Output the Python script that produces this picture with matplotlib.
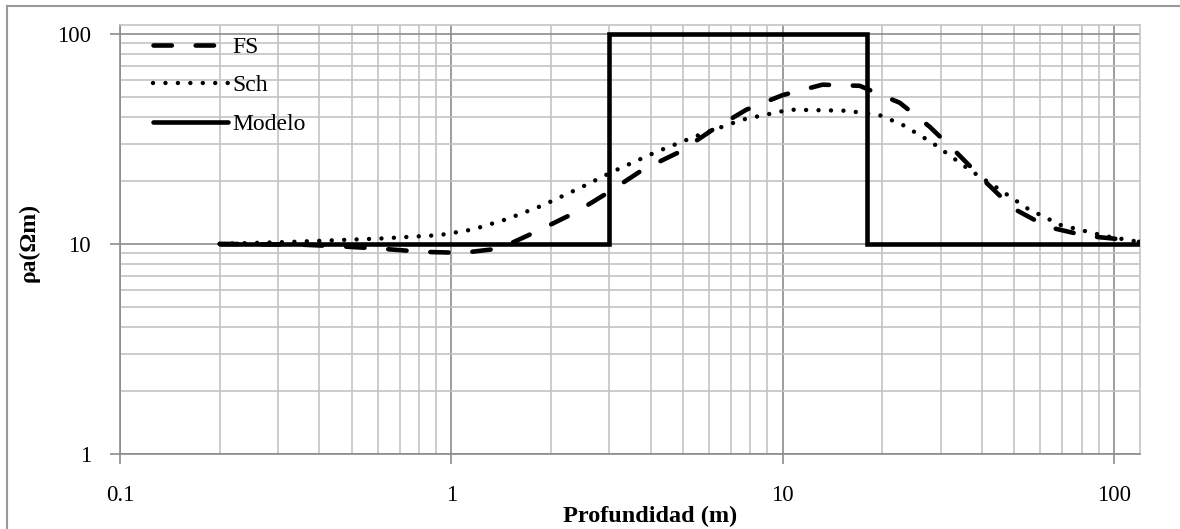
import numpy as np
import matplotlib
matplotlib.use("Agg")
import matplotlib.pyplot as plt
from matplotlib.lines import Line2D
from matplotlib.ticker import LogLocator, FixedLocator, NullFormatter

# ----- data -----
fs_depth = [0.2, 0.36, 0.48, 0.62, 0.82, 1.08, 1.4, 1.84, 2.39, 3.0, 3.78, 4.89,
            6.15, 7.78, 10.0, 13.2, 17.1, 22.6, 27.8, 33.6, 41.3, 49.5, 63.0,
            83.0, 109.0, 120.0]
fs_rho = [10.0, 9.9, 9.7, 9.47, 9.16, 9.06, 9.5, 11.6, 14.2, 17.7, 22.5, 27.4,
          34.9, 43.5, 51.0, 57.2, 56.5, 46.9, 36.1, 27.1, 19.5, 14.8, 12.05,
          10.9, 10.45, 10.2]

sch_depth = [0.2, 0.32, 0.61, 0.92, 1.16, 1.47, 1.88, 2.49, 3.06, 4.16, 5.61,
             7.57, 10.5, 15.6, 19.6, 23.0, 28.3, 36.7, 45.3, 55.0, 69.0, 94.0, 120.0]
sch_rho = [10.0, 10.2, 10.6, 11.0, 11.7, 13.1, 15.2, 18.7, 22.0, 27.4, 33.0,
           39.0, 43.5, 43.0, 41.0, 36.9, 30.3, 22.5, 18.1, 14.7, 12.3, 10.9, 10.2]

model_edges = [0.2, 3.0, 18.0, 120.0]   # layer boundaries (m)
model_rho = [10.0, 100.0, 10.0]         # layer resistivity (Ohm m)

x_ticks = [0.1, 1, 10, 100]
x_labels = ["0.1", "1", "10", "100"]
y_ticks = [1, 10, 100]
y_labels = ["1", "10", "100"]

plt.rcParams["font.family"] = ["Liberation Serif", "DejaVu Serif"]
FS = 16.5
GRID_MAJOR = "#8c8c8c"
GRID_MINOR = "#c4c4c4"

W, H = 1180, 529
fig = plt.figure(figsize=(W / 100, H / 100), dpi=100)
ax = fig.add_axes([120 / W, 1 - 454 / H, (1140 - 120) / W, (454 - 25) / H])

ax.set_xscale("log")
ax.set_yscale("log")
ax.set_xlim(0.1, 120)
ax.set_ylim(1, 110)

# model as stairs, expanded into a polyline
mx = np.repeat(model_edges, 2)[1:-1]
my = np.repeat(model_rho, 2)

ax.plot(fs_depth, fs_rho, color="black", lw=3.3, dashes=(4.0, 5.2),
        dash_capstyle="round", label="FS", zorder=4)
ax.plot(sch_depth, sch_rho, color="black", lw=3.2, dashes=(0.001, 2.8),
        dash_capstyle="round", label="Sch", zorder=4)
ax.plot(mx, my, color="black", lw=3.3, solid_capstyle="round",
        solid_joinstyle="miter", label="Modelo", zorder=5)

# grid
sub = np.arange(2, 10)
ax.xaxis.set_minor_locator(LogLocator(base=10, subs=sub, numticks=20))
ax.yaxis.set_minor_locator(LogLocator(base=10, subs=sub, numticks=20))
ax.xaxis.set_minor_formatter(NullFormatter())
ax.yaxis.set_minor_formatter(NullFormatter())
ax.xaxis.set_major_locator(FixedLocator(x_ticks))
ax.yaxis.set_major_locator(FixedLocator(y_ticks))
ax.set_xticklabels(x_labels)
ax.set_yticklabels(y_labels)
ax.grid(which="minor", color=GRID_MINOR, lw=1.2)
ax.grid(which="major", color=GRID_MAJOR, lw=1.2)
ax.set_axisbelow(True)

ax.tick_params(which="major", direction="out", length=7, width=1.2,
               color=GRID_MAJOR, labelsize=FS, pad=15)
ax.tick_params(axis="y", which="major", pad=14)
ax.tick_params(which="minor", length=0)

for side in ("top", "right"):
    ax.spines[side].set_color(GRID_MINOR)
    ax.spines[side].set_linewidth(1.2)
for side in ("left", "bottom"):
    ax.spines[side].set_color(GRID_MAJOR)
    ax.spines[side].set_linewidth(1.2)

ax.set_xlabel("Profundidad (m)", fontsize=17.5, fontweight="bold")
ax.xaxis.set_label_coords((650 - 120) / 1020, -(506 - 454) / 429)
ax.set_ylabel("ρa(Ωm)", fontsize=17, fontweight="bold")
ax.yaxis.set_label_coords(-(120 - 40) / 1020, (454 - 243) / 429)

leg = ax.legend(loc="upper left", bbox_to_anchor=(16 / 1020, 1.012), frameon=False,
                fontsize=17, handlelength=3.2, handletextpad=0.2,
                labelspacing=0.72, borderaxespad=0.3)

# outer chart frame (only left/top edges fall inside the picture)
fig.add_artist(Line2D([7 / W, 7 / W], [0, 1 - 6 / H], transform=fig.transFigure,
                      color="#9a9a9a", lw=1.5))
fig.add_artist(Line2D([7 / W, 1], [1 - 6 / H, 1 - 6 / H], transform=fig.transFigure,
                      color="#9a9a9a", lw=1.5))

fig.savefig("out.png", dpi=100)
